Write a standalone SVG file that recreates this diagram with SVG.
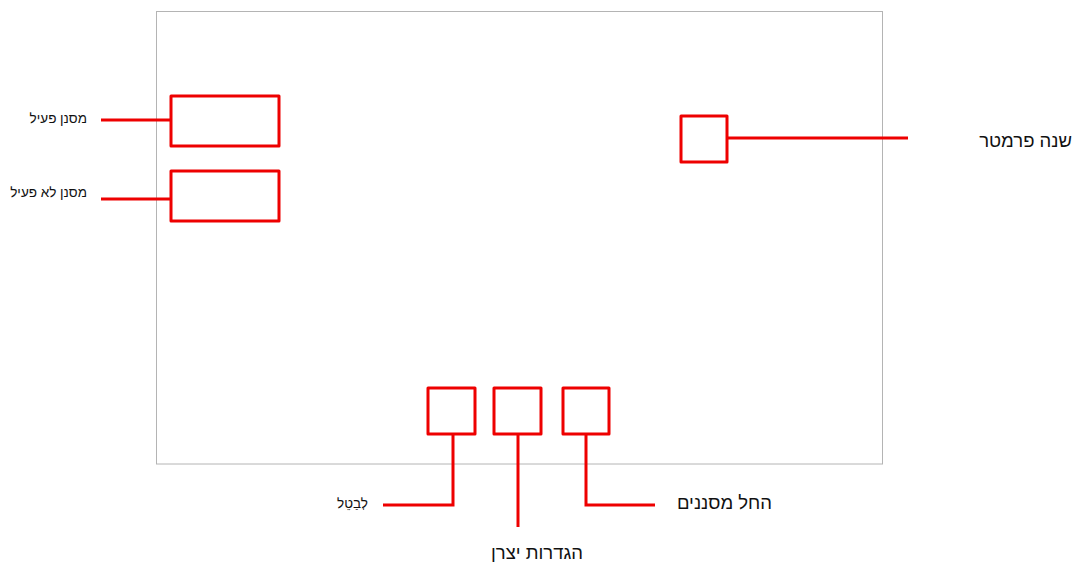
<svg xmlns="http://www.w3.org/2000/svg" width="1075" height="564" viewBox="0 0 1075 564">
  <style>
    .frame { fill: #ffffff; stroke: #b4b4b4; stroke-width: 1; }
    .box { fill: none; stroke: #ee0000; stroke-width: 3; stroke-linejoin: round; }
    .lead { fill: none; stroke: #ee0000; stroke-width: 3; }
    .lbl { font-family: "Liberation Sans", "DejaVu Sans", sans-serif; fill: #111111; }
    .sm { font-size: 13.5px; }
    .lg { font-size: 18.5px; }
  </style>
  <rect width="1075" height="564" fill="#ffffff"/>
  <!-- screen outline -->
  <rect id="screen" class="frame" x="156.5" y="11.5" width="726" height="452.5"/>

  <g id="connectors">
    <path class="lead" d="M101 120 H171"/>
    <path class="lead" d="M101 199 H171"/>
    <path class="lead" d="M727 138 H908"/>
    <path class="lead" d="M453 434 V505 H383"/>
    <path class="lead" d="M518 434 V527"/>
    <path class="lead" d="M586 434 V505 H655"/>
  </g>

  <g id="active-filter">
    <rect class="box" x="171" y="96" width="108" height="50"/>
    <text class="lbl sm" x="87" y="123" text-anchor="end">מסנן פעיל</text>
  </g>
  <g id="inactive-filter">
    <rect class="box" x="171" y="171" width="108" height="50"/>
    <text class="lbl sm" x="87" y="197" text-anchor="end">מסנן לא פעיל</text>
  </g>
  <g id="change-parameter">
    <rect class="box" x="681" y="116" width="46" height="46"/>
    <text class="lbl lg" x="1072" y="147" text-anchor="end">שנה פרמטר</text>
  </g>
  <g id="cancel">
    <rect class="box" x="428" y="388" width="47" height="46"/>
    <text class="lbl sm" x="368" y="508" text-anchor="end">לְבַטֵל</text>
  </g>
  <g id="factory-settings">
    <rect class="box" x="494" y="388" width="47" height="46"/>
    <text class="lbl lg" x="537" y="559" text-anchor="middle">הגדרות יצרן</text>
  </g>
  <g id="apply-filters">
    <rect class="box" x="563" y="388" width="46" height="46"/>
    <text class="lbl lg" x="772" y="509" text-anchor="end">החל מסננים</text>
  </g>
</svg>
